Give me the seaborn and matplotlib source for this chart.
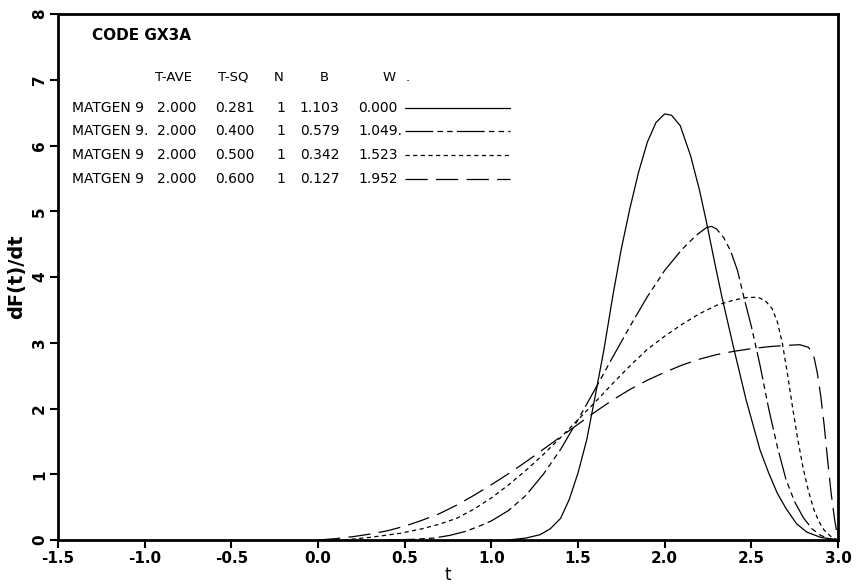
import numpy as np
import pandas as pd
import matplotlib
matplotlib.use('Agg')
import matplotlib.pyplot as plt
import seaborn as sns

# 曲线数据
t_sq_281 = [1.10, 1.20, 1.28, 1.34, 1.40, 1.45, 1.50, 1.55, 1.60, 1.65, 1.70, 1.75, 1.80,
            1.85, 1.90, 1.95, 2.00, 2.04, 2.09, 2.15, 2.20, 2.24, 2.29, 2.33, 2.40, 2.47,
            2.55, 2.60, 2.65, 2.70, 2.76, 2.82, 2.90, 3.00]
f_sq_281 = [0.00, 0.03, 0.08, 0.17, 0.33, 0.62, 1.02, 1.52, 2.20, 2.90, 3.70, 4.43, 5.05,
            5.60, 6.05, 6.35, 6.48, 6.46, 6.30, 5.84, 5.33, 4.85, 4.20, 3.70, 2.90, 2.13,
            1.37, 1.02, 0.71, 0.48, 0.25, 0.12, 0.04, 0.00]

t_sq_400 = [0.40, 0.55, 0.67, 0.76, 0.85, 0.93, 1.00, 1.10, 1.20, 1.30, 1.40, 1.50, 1.60,
            1.70, 1.80, 1.90, 2.00, 2.10, 2.18, 2.24, 2.27, 2.30, 2.34, 2.38, 2.42, 2.46,
            2.50, 2.55, 2.60, 2.65, 2.70, 2.75, 2.80, 2.85, 2.90, 2.95, 3.00]
f_sq_400 = [0.00, 0.01, 0.03, 0.07, 0.13, 0.21, 0.29, 0.45, 0.68, 1.00, 1.38, 1.83, 2.30,
            2.78, 3.25, 3.70, 4.10, 4.42, 4.63, 4.75, 4.77, 4.73, 4.60, 4.40, 4.10, 3.66,
            3.25, 2.66, 2.00, 1.42, 0.92, 0.58, 0.34, 0.17, 0.07, 0.02, 0.00]

t_sq_500 = [0.15, 0.30, 0.47, 0.60, 0.70, 0.80, 0.90, 1.00, 1.10, 1.20, 1.30, 1.40, 1.50,
            1.60, 1.70, 1.80, 1.90, 2.00, 2.10, 2.20, 2.30, 2.40, 2.48, 2.54, 2.58, 2.62,
            2.65, 2.68, 2.71, 2.74, 2.77, 2.80, 2.83, 2.86, 2.89, 2.92, 2.96, 3.00]
f_sq_500 = [0.00, 0.04, 0.10, 0.17, 0.24, 0.33, 0.47, 0.64, 0.84, 1.06, 1.30, 1.56, 1.83,
            2.10, 2.38, 2.65, 2.90, 3.10, 3.28, 3.44, 3.57, 3.65, 3.69, 3.69, 3.64, 3.52,
            3.32, 2.98, 2.50, 1.98, 1.50, 1.08, 0.74, 0.47, 0.28, 0.15, 0.05, 0.00]

t_sq_600 = [0.00, 0.10, 0.20, 0.30, 0.40, 0.50, 0.60, 0.70, 0.80, 0.90, 1.00, 1.10, 1.20,
            1.30, 1.40, 1.50, 1.60, 1.70, 1.80, 1.90, 2.00, 2.10, 2.20, 2.30, 2.40, 2.50,
            2.60, 2.70, 2.78, 2.83, 2.86, 2.88, 2.90, 2.92, 2.94, 2.96, 2.98, 3.00]
f_sq_600 = [0.00, 0.02, 0.05, 0.09, 0.14, 0.21, 0.30, 0.40, 0.53, 0.68, 0.84, 1.01, 1.19,
            1.38, 1.57, 1.76, 1.95, 2.13, 2.29, 2.43, 2.55, 2.66, 2.75, 2.82, 2.87, 2.91,
            2.94, 2.96, 2.97, 2.93, 2.80, 2.55, 2.20, 1.75, 1.22, 0.72, 0.32, 0.00]

# 图例表格内容
row_names = ['MATGEN 9', 'MATGEN 9.', 'MATGEN 9', 'MATGEN 9']
t_ave = ['2.000', '2.000', '2.000', '2.000']
t_sq = ['0.281', '0.400', '0.500', '0.600']
n_col = ['1', '1', '1', '1']
b_col = ['1.103', '0.579', '0.342', '0.127']
w_col = ['0.000', '1.049.', '1.523', '1.952']

x_ticks = [-1.5, -1.0, -0.5, 0.0, 0.5, 1.0, 1.5, 2.0, 2.5, 3.0]
y_ticks = [0, 1, 2, 3, 4, 5, 6, 7, 8]

# 组装长表
frames = []
for name, tt, ff in zip(t_sq, [t_sq_281, t_sq_400, t_sq_500, t_sq_600],
                        [f_sq_281, f_sq_400, f_sq_500, f_sq_600]):
    frames.append(pd.DataFrame({'t': tt, 'f': ff, 'series': name}))
df = pd.concat(frames, ignore_index=True)

sns.set_style('ticks')
plt.rcParams['font.family'] = ['DejaVu Sans']
plt.rcParams['lines.scale_dashes'] = False
plt.rcParams['text.color'] = 'black'
plt.rcParams['axes.labelcolor'] = 'black'
plt.rcParams['xtick.color'] = 'black'
plt.rcParams['ytick.color'] = 'black'
plt.rcParams['axes.edgecolor'] = 'black'

dash_styles = ['', (20, 3, 4, 3, 4, 3), (3, 2.5), (16, 6)]

fig = plt.figure(figsize=(8.56, 5.85), dpi=100)
ax = fig.add_axes([58 / 856, 45 / 585, 780 / 856, 526 / 585])

sns.lineplot(data=df, x='t', y='f', hue='series', style='series',
             palette=['black'] * 4, dashes=dash_styles, estimator=None,
             sort=False, linewidth=0.9, legend=False, ax=ax)

ax.set_xlim(-1.5, 3.0)
ax.set_ylim(0, 8)
ax.set_xticks(x_ticks)
ax.set_xticklabels([f'{v:.1f}' for v in x_ticks], fontsize=11, fontweight='bold')
ax.set_yticks(y_ticks)
ax.set_yticklabels([str(v) for v in y_ticks], fontsize=11, fontweight='bold',
                   rotation=90, va='center')
ax.tick_params(direction='out', length=6, width=1.5, pad=2)
for sp in ax.spines.values():
    sp.set_visible(True)
    sp.set_linewidth(2)
ax.set_xlabel('t', fontsize=12, labelpad=0)
ax.set_ylabel('dF(t)/dt', fontsize=14, fontweight='bold', labelpad=4)

# 图例表格
ax.text(0.0432, 0.960, 'CODE GX3A', transform=ax.transAxes, fontsize=11,
        fontweight='bold', va='center', ha='left')
header_x = [0.1244, 0.2051, 0.277, 0.336, 0.4167, 0.446]
header_txt = ['T-AVE', 'T-SQ', 'N', 'B', 'W', '.']
for hx, ht in zip(header_x, header_txt):
    ax.text(hx, 0.880, ht, transform=ax.transAxes, fontsize=9.5, va='center', ha='left')

row_y = [0.821, 0.777, 0.732, 0.687]
col_x = [0.0176, 0.1265, 0.2013, 0.2804, 0.310, 0.3846]
for i, ry in enumerate(row_y):
    vals = [row_names[i], t_ave[i], t_sq[i], n_col[i], b_col[i], w_col[i]]
    for cx, v in zip(col_x, vals):
        ax.text(cx, ry, v, transform=ax.transAxes, fontsize=10, va='center', ha='left')
    ax.plot([0.445, 0.579], [ry, ry], transform=ax.transAxes, color='black',
            lw=0.9, linestyle=(0, dash_styles[i]) if dash_styles[i] else '-')

plt.savefig('out.png', dpi=100)
plt.close()
